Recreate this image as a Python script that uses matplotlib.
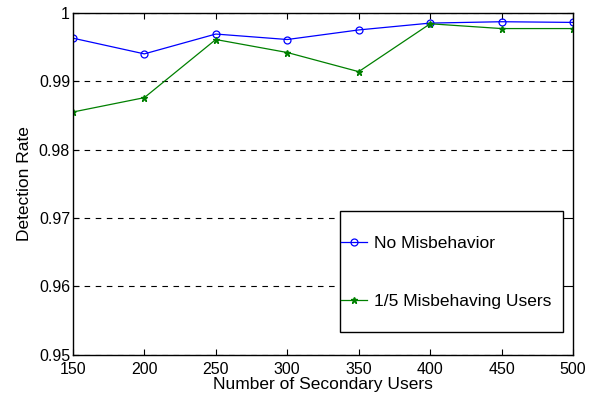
import matplotlib
matplotlib.use("Agg")
import matplotlib.pyplot as plt
from matplotlib.patches import Rectangle

x_users = [150, 200, 250, 300, 350, 400, 450, 500]
no_misbehavior = [0.9963, 0.9940, 0.9969, 0.9961, 0.9975, 0.9985, 0.9987, 0.9986]
misbehaving = [0.9855, 0.9876, 0.9961, 0.9942, 0.9914, 0.9984, 0.9977, 0.9977]
y_ticks = [0.95, 0.96, 0.97, 0.98, 0.99, 1.0]
y_tick_labels = ["0.95", "0.96", "0.97", "0.98", "0.99", "1"]
x_ticks = [150, 200, 250, 300, 350, 400, 450, 500]

plt.rcParams['font.family'] = ['Liberation Sans', 'DejaVu Sans']
fig = plt.figure(figsize=(6.02, 4.01), dpi=100)
ax = fig.add_axes([0.121, 0.115, 0.831, 0.853])

ax.plot(x_users, no_misbehavior, color='blue', marker='o', markersize=5,
        markerfacecolor='none', markeredgewidth=0.9, linewidth=0.9, label='No Misbehavior')
ax.plot(x_users, misbehaving, color='green', marker='*', markersize=5,
        linewidth=0.9, label='1/5 Misbehaving Users')

ax.set_xlim(150, 500)
ax.set_ylim(0.95, 1.0)
ax.set_xticks(x_ticks)
ax.set_yticks(y_ticks)
ax.set_yticklabels(y_tick_labels)
ax.yaxis.grid(True, linestyle=(0, (5, 5)), color='black', linewidth=0.8)
ax.tick_params(direction='in', top=True, right=True, labelsize=11.5, length=4)
ax.tick_params(axis='x', pad=5)
ax.tick_params(axis='y', pad=2)
for s in ax.spines.values():
    s.set_linewidth(1.0)
ax.set_xlabel('Number of Secondary Users', fontsize=12.5, labelpad=0)
ax.set_ylabel('Detection Rate', fontsize=12.5, labelpad=5)

# legend frame drawn separately (MATLAB-style box)
frame = Rectangle((0.534, 0.067), 0.446, 0.354, transform=ax.transAxes,
                  facecolor='white', edgecolor='black', linewidth=1.0, zorder=4)
ax.add_patch(frame)
leg = ax.legend(loc='upper left', bbox_to_anchor=(0.536, 0.348),
                fontsize=12.5, labelspacing=2.45, handlelength=1.5,
                handletextpad=0.4, borderpad=0, frameon=False,
                borderaxespad=0)
leg.set_zorder(5)

fig.savefig('out.png', dpi=100)
